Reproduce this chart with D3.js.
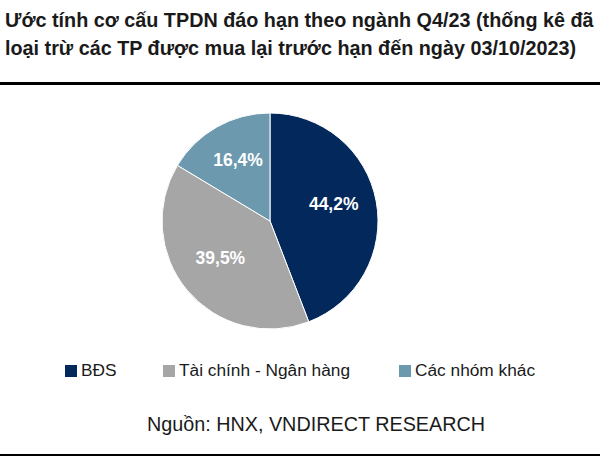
<!DOCTYPE html>
<html><head><meta charset="utf-8">
<script src="https://cdn.jsdelivr.net/npm/d3@7"></script>
<style>body{margin:0;background:#fff}svg{display:block}</style>
</head><body>
<svg id="c" width="600" height="460"></svg>
<script>
const titleLines = ["Ước tính cơ cấu TPDN đáo hạn theo ngành Q4/23 (thống kê đã",
                    "loại trừ các TP được mua lại trước hạn đến ngày 03/10/2023)"];
const categories = ["BĐS", "Tài chính - Ngân hàng", "Các nhóm khác"];
const values = [44.2, 39.5, 16.4];
const colors = ["#03295c", "#a6a6a6", "#6c99ae"];
const source = "Nguồn: HNX, VNDIRECT RESEARCH";

const svg = d3.select("#c");
const font = "'Liberation Sans', Arial, sans-serif";

svg.selectAll("text.title").data(titleLines).join("text")
  .attr("x", 5).attr("y", (d, i) => 27 + i * 28)
  .attr("font-family", font).attr("font-weight", "bold").attr("font-size", 19.8)
  .attr("fill", "#1a1a1a").text(d => d);

svg.append("rect").attr("x", 0).attr("y", 82).attr("width", 600).attr("height", 3).attr("fill", "#000");
svg.append("rect").attr("x", 0).attr("y", 454).attr("width", 600).attr("height", 2).attr("fill", "#000");

const cx = 270, cy = 221, R = 108;
const pie = d3.pie().sort(null).value(d => d)(values);
const arc = d3.arc().innerRadius(0).outerRadius(R);
const labelArc = d3.arc().innerRadius(R * 0.6).outerRadius(R * 0.6);
const g = svg.append("g").attr("transform", `translate(${cx},${cy})`);
g.selectAll("path").data(pie).join("path")
  .attr("d", arc).attr("fill", (d, i) => colors[i]).attr("stroke", "#fff").attr("stroke-width", 1);
g.selectAll("text").data(pie).join("text")
  .attr("transform", d => `translate(${labelArc.centroid(d)})`)
  .attr("text-anchor", "middle").attr("dy", "0.07em")
  .attr("font-family", font).attr("font-weight", "bold").attr("font-size", 17.5)
  .attr("fill", "#fff")
  .text(d => d3.format(".1f")(d.data).replace(".", ",") + "%");

const legX = [65, 163, 399];
const leg = svg.selectAll("g.leg").data(categories).join("g")
  .attr("transform", (d, i) => `translate(${legX[i]},365)`);
leg.append("rect").attr("width", 12).attr("height", 12).attr("fill", (d, i) => colors[i]);
leg.append("text").attr("x", 16).attr("y", 11)
  .attr("font-family", font).attr("font-size", 17.3).attr("fill", "#1a1a1a").text(d => d);

svg.append("text").attr("x", 316).attr("y", 431).attr("text-anchor", "middle")
  .attr("font-family", font).attr("font-size", 19.8).attr("fill", "#1a1a1a").text(source);
</script>
</body></html>
